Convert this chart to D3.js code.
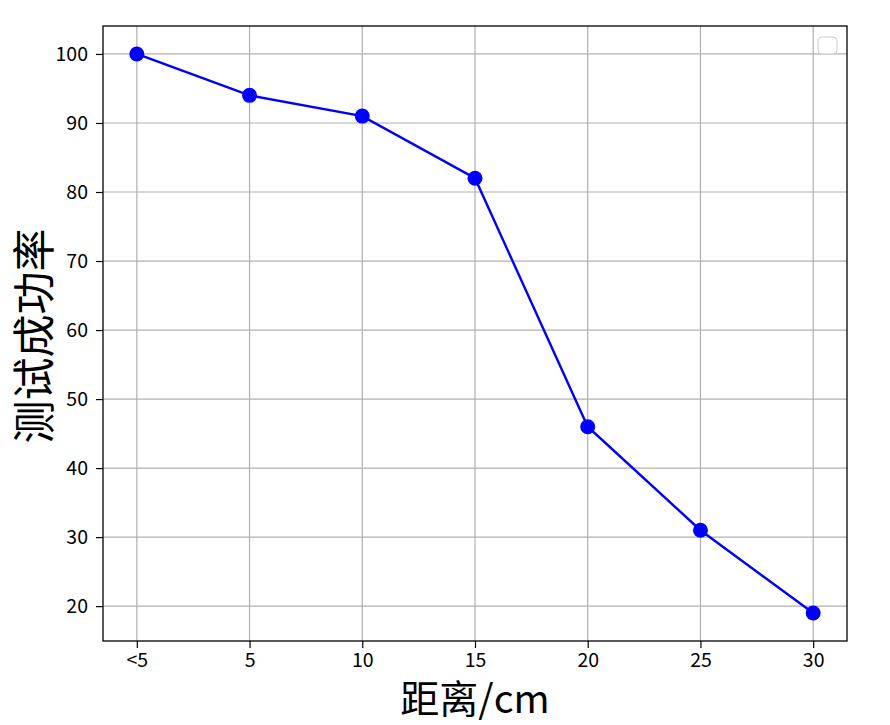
<!DOCTYPE html>
<html><head><meta charset="utf-8">
<script src="https://cdn.jsdelivr.net/npm/d3@7"></script>
<style>body{margin:0;background:#fff}svg{display:block}</style>
</head><body>
<svg id="c" width="890" height="725"></svg>
<script>
const categories = ["<5","5","10","15","20","25","30"];
const values = [100,94,91,82,46,31,19];
const yTicks = [20,30,40,50,60,70,80,90,100];
const xLabel = "距离/cm";
const yLabel = "测试成功率";

const svg = d3.select("#c");
const L=103,R=847,T=26,B=641;
const x = d3.scaleLinear().domain([-0.3,6.3]).range([L,R]);
const y = d3.scaleLinear().domain([14.95,104.05]).range([B,T]);
const font = "'Noto Sans CJK SC','DejaVu Sans',sans-serif";

const g = svg.append("g");
// grid
g.selectAll(".gx").data(categories).enter().append("line")
  .attr("x1",(d,i)=>x(i)).attr("x2",(d,i)=>x(i)).attr("y1",T).attr("y2",B)
  .attr("stroke","#b0b0b0").attr("stroke-width",1.2);
g.selectAll(".gy").data(yTicks).enter().append("line")
  .attr("y1",d=>y(d)).attr("y2",d=>y(d)).attr("x1",L).attr("x2",R)
  .attr("stroke","#b0b0b0").attr("stroke-width",1.2);

// axes
const xa = svg.append("g").attr("transform",`translate(0,${B})`)
  .call(d3.axisBottom(x).tickValues(d3.range(categories.length)).tickFormat(i=>categories[i]).tickSize(7).tickPadding(5));
const ya = svg.append("g").attr("transform",`translate(${L},0)`)
  .call(d3.axisLeft(y).tickValues(yTicks).tickSize(7).tickPadding(8));
[xa,ya].forEach(a=>{
  a.select(".domain").remove();
  a.selectAll(".tick line").attr("stroke","#000").attr("stroke-width",1.2);
  a.selectAll("text").attr("font-family",font).attr("font-size",19.5).attr("fill","#000");
});

// line
svg.append("path").datum(values)
  .attr("d",d3.line().x((d,i)=>x(i)).y(d=>y(d)))
  .attr("fill","none").attr("stroke","#0000ff").attr("stroke-width",2.4);
svg.selectAll(".pt").data(values).enter().append("circle")
  .attr("cx",(d,i)=>x(i)).attr("cy",d=>y(d)).attr("r",7.5).attr("fill","#0000ff");

// frame
svg.append("rect").attr("x",L).attr("y",T).attr("width",R-L).attr("height",B-T)
  .attr("fill","none").attr("stroke","#000").attr("stroke-width",1.3);

// empty legend
svg.append("rect").attr("x",818).attr("y",37).attr("width",19).attr("height",17).attr("rx",4)
  .attr("fill","#fff").attr("fill-opacity",0.8).attr("stroke","#cccccc").attr("stroke-width",1);

// labels
svg.append("text").attr("x",(L+R)/2).attr("y",713).attr("text-anchor","middle")
  .attr("font-family",font).attr("font-size",39).attr("fill","#000").text(xLabel);
svg.append("text").attr("transform",`translate(50,336) rotate(-90)`).attr("text-anchor","middle")
  .attr("font-family",font).attr("font-size",43).attr("fill","#000").text(yLabel);
</script>
</body></html>
